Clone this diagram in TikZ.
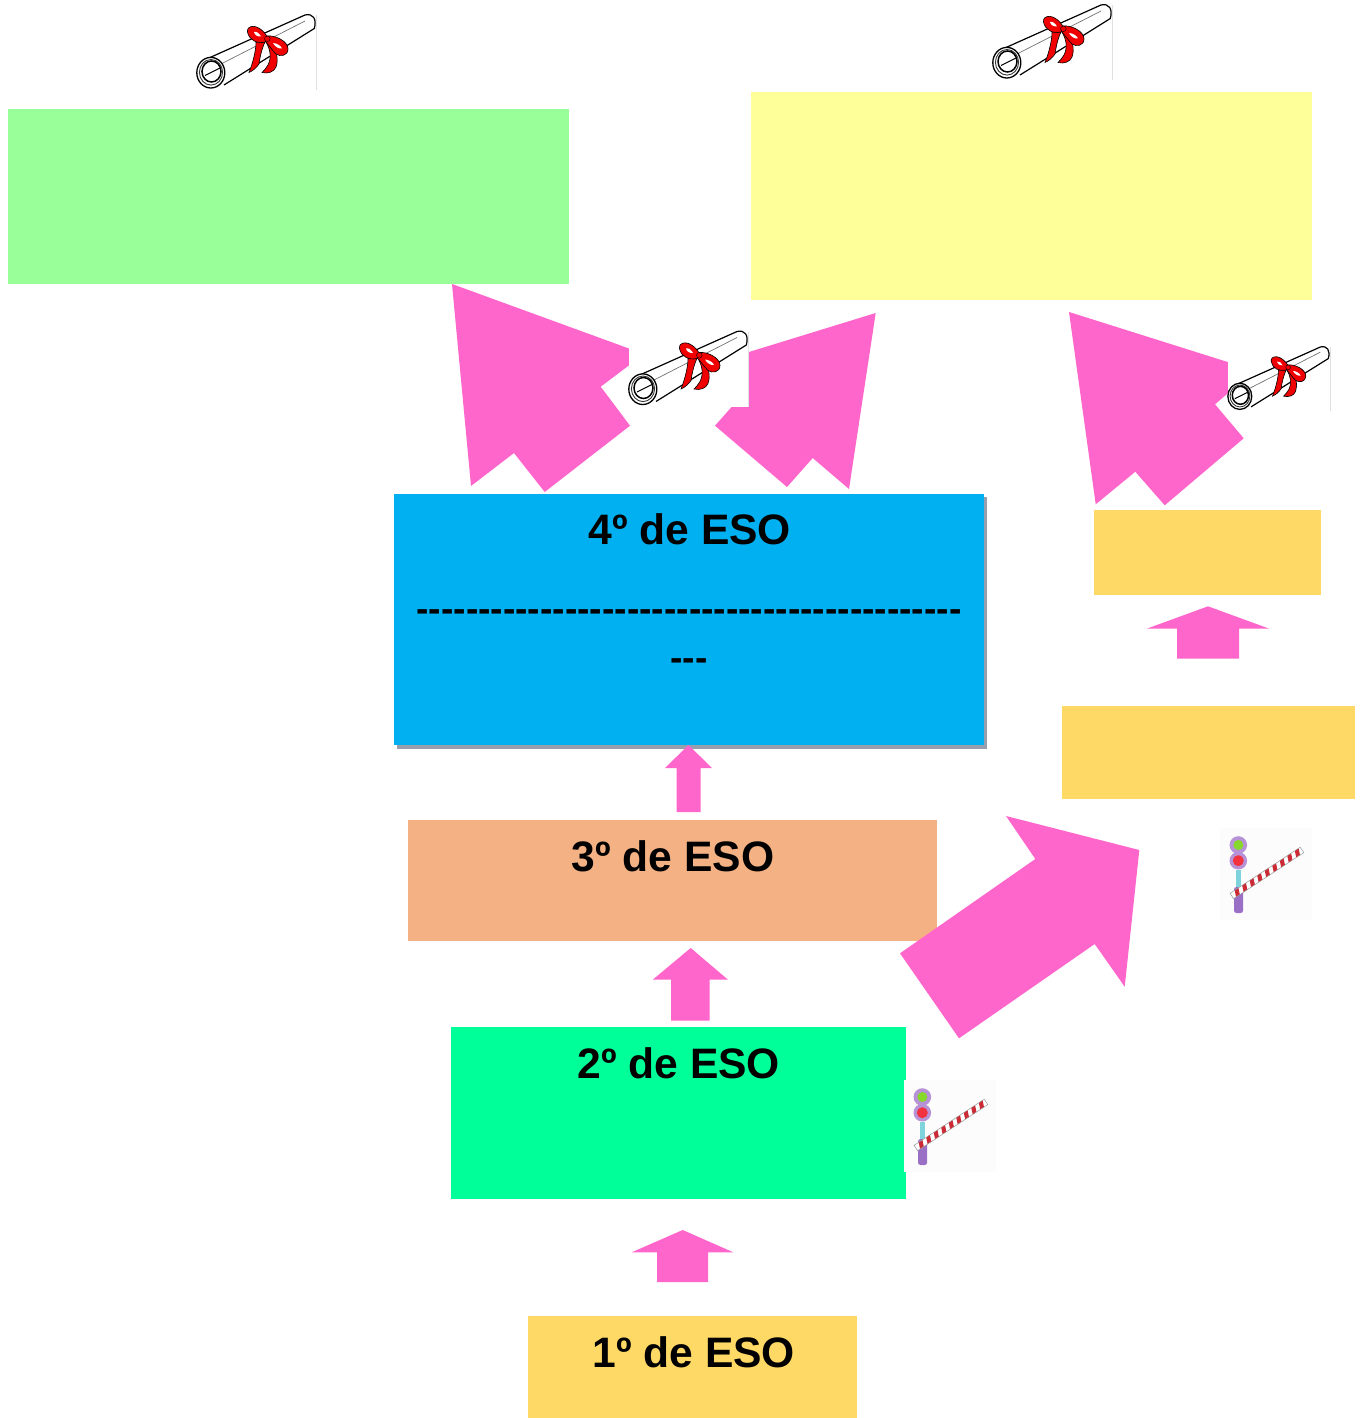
\documentclass[tikz,border=0pt]{standalone}
\usepackage{fontspec}
\setmainfont{Liberation Sans}
\definecolor{pinka}{HTML}{FF66CC}
\definecolor{greenA}{HTML}{99FF99}
\definecolor{yellowA}{HTML}{FFFF99}
\definecolor{blueA}{HTML}{00B0F0}
\definecolor{goldA}{HTML}{FFD966}
\definecolor{salmonA}{HTML}{F4B183}
\definecolor{greenB}{HTML}{00FF99}
\definecolor{shadowA}{HTML}{979FAE}
\definecolor{purpA}{HTML}{B792D6}
\definecolor{purpB}{HTML}{9A6FC6}
\definecolor{cyanA}{HTML}{7FD3DC}
\definecolor{ribbon}{HTML}{F00000}
\definecolor{limeA}{HTML}{86D82A}
\definecolor{redA}{HTML}{F2333F}
\definecolor{stripeA}{HTML}{CC2A34}
\tikzset{
  box/.style={draw=none,inner sep=0pt,outer sep=0pt,anchor=north west},
  lab/.style={inner sep=0pt,outer sep=0pt,anchor=base,text=black,font=\bfseries\fontsize{42.6}{42.6}\selectfont},
  dashlab/.style={inner sep=0pt,outer sep=0pt,anchor=base,text=black,font=\bfseries\fontsize{37.2}{37.2}\selectfont},
  blockarrow/.style={fill=pinka,draw=none},
  ribbonpart/.style={fill=ribbon,draw=black,line width=.6pt},
}
\newcommand{\mkbox}[6]{\node[box,fill=#6,minimum width=#4pt-#2pt,minimum height=#5pt-#3pt] (#1) at (#2,#3) {};}
\newcommand{\diploma}[3]{%
\begin{scope}[shift={(#1,#2)},scale=#3]
  \fill[white] (0,0) rectangle (119.5,75);
  \draw[black!12,line width=.6pt] (119.5,0) -- (119.5,75);
  % body
  \fill[white] (9,44.3) -- (108,0) .. controls (116,-2) and (120,4) .. (117.3,13.5) -- (28,70) -- cycle;
  \draw[black,line width=1.2pt] (9,44.3) -- (108,0) .. controls (116,-2) and (120,4) .. (117.3,13.5) -- (27,70);
  \draw[black!55,line width=.7pt] (25,48.5) -- (108,6);
  % roll end
  \draw[black,line width=1.3pt,fill=white] (13.8,57.7) ellipse [x radius=14,y radius=15.3];
  \draw[black!80,line width=.9pt] (14,57.3) ellipse [x radius=11.6,y radius=12.8];
  \draw[black,line width=1.5pt] (14.5,56.5) ellipse [x radius=9.5,y radius=10.5];
  \draw[black,line width=1pt] (8,60.5) -- (23,53);
  % ribbon
  \path[ribbonpart] (59,27) .. controls (59,37) and (55,50) .. (52,57.5) .. controls (56,56) and (60,52) .. (62,49)
     .. controls (63,42) and (65,33) .. (68,27) -- cycle;
  \path[ribbonpart] (69,27) .. controls (73,34) and (75,42) .. (71,50) .. controls (69,53) and (67,56) .. (65,57.5)
     .. controls (71,59) and (77,57) .. (79,52) .. controls (82,44) and (79,35) .. (75,26) -- cycle;
  \path[ribbonpart] (70,21) .. controls (78,20) and (91,26) .. (91,34) .. controls (91,41) and (83,42) .. (79,39)
     .. controls (75,35) and (71,29) .. (67,25) -- cycle;
  \path[ribbonpart] (71,23) .. controls (62,7) and (49,10) .. (50.5,17) .. controls (52,25) and (60,29) .. (68,27) -- cycle;
  \fill[white] (57,17) .. controls (59.5,16) and (62.5,18.5) .. (64,21.5) .. controls (61,22) and (57.5,20) .. (57,17) -- cycle;
  \fill[white] (76,28) .. controls (79,28) and (84,30.5) .. (85,33.5) .. controls (82,34) and (78,32) .. (76,28) -- cycle;
  \fill[ribbon,draw=black,line width=.4pt] (70.3,23.8) circle (2.8);
\end{scope}}
\newcommand{\barrier}[2]{%
\begin{scope}[shift={(#1,#2)}]
  \fill[white!99!black] (-18.3,-17) rectangle (74,75);
  \fill[cyanA] (-2.4,25) rectangle (2.4,46);
  \fill[purpB,rounded corners=2.5pt] (-4.3,42) rectangle (4.8,68);
  \fill[purpA] (0,0) circle (8.8);
  \fill[purpA] (0,15.7) circle (8.8);
  \fill[limeA] (0,0) circle (5);
  \fill[redA] (0,15.7) circle (5.5);
  \begin{scope}[shift={(-6.5,51)},rotate=33.3]
    \fill[white] (0,-3.2) rectangle (84,3.2);
    \foreach \t in {3,12,...,80}{
      \fill[stripeA] (\t,3.2) -- (\t+4.5,3.2) -- (\t+7,-3.2) -- (\t+2.5,-3.2) -- cycle;
    }
    \draw[black!40,line width=.5pt] (0,-3.2) rectangle (84,3.2);
  \end{scope}
\end{scope}}
\begin{document}
\begin{tikzpicture}[x=1pt,y=-1pt]
\useasboundingbox[fill=white] (0,0) rectangle (1360,1418);
% shadow and boxes
\fill[shadowA] (397,497) rectangle (986.5,748.5);
\mkbox{bGreen}{8}{109}{569}{284}{greenA}
\mkbox{bYellow}{751}{92}{1312}{300}{yellowA}
\mkbox{bFour}{394}{494}{984}{745}{blueA}
\mkbox{bGoldA}{1094}{510}{1321}{595}{goldA}
\mkbox{bGoldB}{1062}{706}{1355}{799}{goldA}
\mkbox{bThree}{408}{820}{937}{941}{salmonA}
\mkbox{bTwo}{451}{1027}{906}{1199}{greenB}
\mkbox{bOne}{528}{1316}{857}{1418}{goldA}
% texts
\node[lab] (tFour) at (689.7,544) {4º de ESO};
\node[dashlab] (tDashA) at (689,621.5) {\foreach \i in {1,...,44}{-}};
\node[dashlab] (tDashB) at (689,670.5) {\foreach \i in {1,2,3}{-}};
\node[lab] (tThree) at (673.2,871) {3º de ESO};
\node[lab] (tTwo) at (678.7,1078) {2º de ESO};
\node[lab] (tOne) at (693.7,1367) {1º de ESO};
% large arrows
\fill[blockarrow] (452,284) -- (644,354) -- (600.7,386.7) -- (630,425.7) -- (544.7,492) -- (514,453) -- (471,486) -- cycle;
\fill[blockarrow] (875.7,313) -- (704.4,365.7) -- (740.7,396.7) -- (715,425.7) -- (787,487) -- (812.7,458) -- (849,489) -- cycle;
\fill[blockarrow] (1069,312) -- (1254.6,370.5) -- (1215,404.3) -- (1243.7,438.3) -- (1164.7,505.3) -- (1135.3,471.7) -- (1095.7,504.3) -- cycle;
\fill[blockarrow] (1006,816) -- (1139.3,850) -- (1124.7,986.7) -- (1094.7,944) -- (959,1038.3) -- (900,953.3) -- (1035.3,859) -- cycle;
% small arrows
\fill[blockarrow] (688.5,745) -- (712,768) -- (700.5,768) -- (700.5,812) -- (676.5,812) -- (676.5,768) -- (665,768) -- cycle;
\fill[blockarrow] (690.7,948) -- (728,979.7) -- (709.7,979.7) -- (709.7,1020.7) -- (671,1020.7) -- (671,979.7) -- (652.7,979.7) -- cycle;
\fill[blockarrow] (682.7,1230) -- (733.3,1252.3) -- (708,1252.3) -- (708,1282) -- (657,1282) -- (657,1252.3) -- (631.7,1252.3) -- cycle;
\fill[blockarrow] (1208,606.3) -- (1269.3,628.7) -- (1239,628.7) -- (1239,658.7) -- (1177,658.7) -- (1177,628.7) -- (1146.7,628.7) -- cycle;
% diplomas
\diploma{197}{15}{1}
\diploma{993}{5}{1}
\diploma{629}{331.5}{1}
\diploma{1228}{347}{.855}
% barriers
\barrier{1238.3}{845}
\barrier{922.3}{1097}
\end{tikzpicture}
\end{document}
